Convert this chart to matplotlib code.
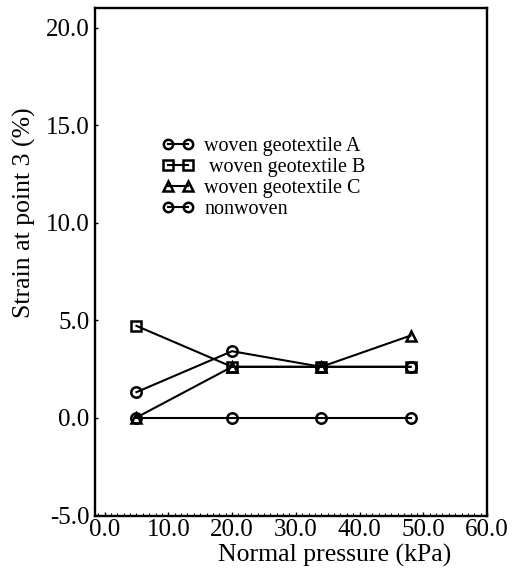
import matplotlib
matplotlib.use("Agg")
import matplotlib.pyplot as plt
from matplotlib.ticker import MultipleLocator, FixedLocator, FormatStrFormatter

# ---- data ----
pressure = [5.0, 20.0, 34.0, 48.0]          # normal pressure (kPa)
woven_a = [1.3, 3.4, 2.6, 2.6]              # strain at point 3 (%)
woven_b = [4.7, 2.6, 2.6, 2.6]
woven_c = [0.0, 2.6, 2.6, 4.2]
nonwoven = [0.0, 0.0, 0.0, 0.0]
series_labels = ["woven geotextile A", " woven geotextile B",
                 "woven geotextile C", "nonwoven"]
x_ticks = [0, 10, 20, 30, 40, 50, 60]
y_ticks = [-5, 0, 5, 10, 15, 20]

plt.rcParams['font.family'] = ['Liberation Serif', 'DejaVu Serif']

fig = plt.figure(figsize=(5.18, 5.81), dpi=100)
ax = fig.add_axes([95/518, 1-516/581, 392/518, 508/581])

style = dict(color='black', lw=1.5, mfc='none', mec='black', mew=1.8, ms=7.5)
ax.plot(pressure, woven_a, marker='o', label=series_labels[0], zorder=3, **style)
ax.plot(pressure, nonwoven, marker='o', label=series_labels[3], zorder=3, **style)
ax.plot(pressure, woven_b, marker='s', label=series_labels[1], zorder=4, **style)
ax.plot(pressure, woven_c, marker='^', label=series_labels[2], zorder=5, **style)

ax.set_xlim(-1.5, 60)
ax.set_ylim(-5.05, 21.0)
ax.xaxis.set_major_locator(FixedLocator(x_ticks))
ax.yaxis.set_major_locator(FixedLocator(y_ticks))
ax.xaxis.set_minor_locator(MultipleLocator(1))
ax.xaxis.set_major_formatter(FormatStrFormatter('%.1f'))
ax.yaxis.set_major_formatter(FormatStrFormatter('%.1f'))
ax.tick_params(axis='x', which='major', direction='in', length=3, width=1,
               labelsize=18, pad=2)
ax.tick_params(axis='x', which='minor', direction='in', length=2, width=0.8)
ax.tick_params(axis='y', which='major', direction='in', length=2, width=1,
               labelsize=18, pad=4)

for s in ax.spines.values():
    s.set_linewidth(1.7)

ax.set_xlabel("Normal pressure (kPa)", fontsize=18.5)
ax.xaxis.set_label_coords(0.612, -0.055)
ax.set_ylabel("Strain at point 3 (%)", fontsize=18.5)
ax.yaxis.set_label_coords(-0.15, 0.598)

h, l = ax.get_legend_handles_labels()
order = [0, 2, 3, 1]
leg = ax.legend([h[i] for i in order], [l[i] for i in order],
                loc='upper left', bbox_to_anchor=(0.171, 0.746),
                frameon=False, fontsize=14.5, handlelength=1.6,
                handletextpad=0.5, labelspacing=0.1, borderpad=0,
                borderaxespad=0, numpoints=2, markerscale=0.9)

fig.savefig("out.png", dpi=100)
